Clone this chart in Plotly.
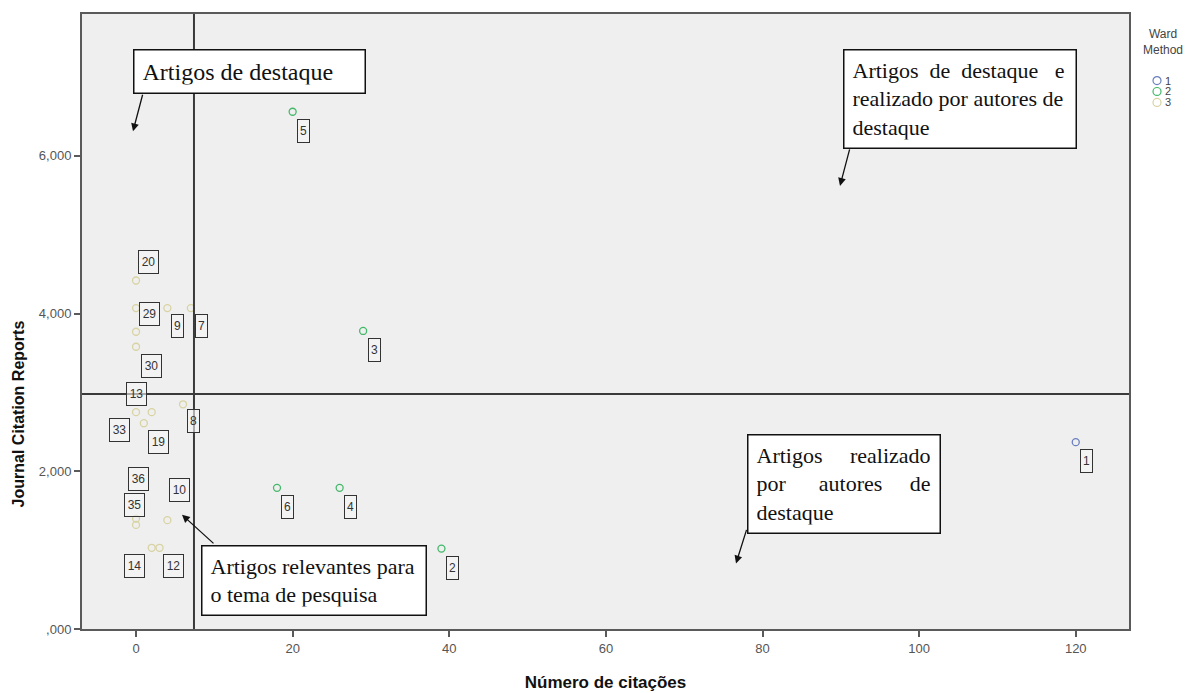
import plotly.graph_objects as go

# ---------------- data ----------------
cluster1_ids = ["1"]
cluster1_x = [120]
cluster1_y = [2370]

cluster2_ids = ["2", "3", "4", "5", "6"]
cluster2_x = [39, 29, 26, 20, 18]
cluster2_y = [1020, 3780, 1790, 6560, 1790]

cluster3_ids = ["20", "29", "9", "7", "", "30", "13", "8", "33", "19", "36", "35", "10", "14", "12"]
cluster3_x = [0, 0, 4, 7, 0, 0, 0, 6, 2, 1, 0, 0, 4, 2, 3]
cluster3_y = [4420, 4070, 4070, 4070, 3770, 3580, 2750, 2850, 2750, 2610, 1400, 1320, 1380, 1030, 1030]

cluster_names = ["1", "2", "3"]
ref_x = 7.4
ref_y = 2980

x_ticks = [0, 20, 40, 60, 80, 100, 120]
y_ticks = [0, 2000, 4000, 6000]
y_ticktext = [",000", "2,000", "4,000", "6,000"]

x_title = "Número de citações"
y_title = "Journal Citation Reports"
legend_title = "Ward<br>Method"

box_texts = [
    "Artigos de destaque",
    "Artigos\u00a0\u00a0de\u00a0\u00a0destaque\u00a0\u00a0\u00a0e<br>realizado por autores de<br>destaque",
    "Artigos\u00a0\u00a0\u00a0\u00a0\u00a0realizado<br>por\u00a0\u00a0\u00a0\u00a0\u00a0\u00a0autores\u00a0\u00a0\u00a0\u00a0\u00a0de<br>destaque",
    "Artigos relevantes para<br>o tema de pesquisa",
]

# ---------------- styles / layout geometry ----------------
COLORS = ["#6a7fbf", "#44b86a", "#d8d3a2"]
OFF = 8  # page body margin
W, H = 1198 - OFF, 693 - OFF
PL, PR, PT, PB = 82, 1129, 12, 631  # plot area in window pixels
SANS = "Liberation Sans, Arial, sans-serif"

DEFAULT_SHIFT = (11, -19)
LABEL_SHIFT = {
    "20": (12, 19), "29": (13, -6), "9": (10, -18), "7": (11, -18),
    "30": (15, -19), "13": (0, 18), "8": (10, -17), "33": (-32, -18),
    "19": (15, -19), "36": (2, 40), "35": (-2, 20), "10": (12, 30),
    "14": (-17, -18), "12": (14, -18),
}

BOXES = [
    (133, 47, 366, 92, 24),
    (843, 47, 1077, 147, 22),
    (747, 435, 941, 535, 22),
    (201, 546, 427, 617, 22),
]
ARROWS = [
    (143, 92, 133, 130),
    (850, 147, 840, 185),
    (747, 530, 736, 565),
    (215, 546, 182, 516),
]
LEG_X, LEG_Y0, LEG_DY = 1157, 79, 11


def px2paper(px, py):
    return (px - PL) / (PR - PL), (PB - py) / (PB - PT)


fig = go.Figure()
clusters = [
    (cluster1_ids, cluster1_x, cluster1_y),
    (cluster2_ids, cluster2_x, cluster2_y),
    (cluster3_ids, cluster3_x, cluster3_y),
]
for name, (ids, xs, ys), col in zip(cluster_names, clusters, COLORS):
    fig.add_trace(go.Scatter(
        x=xs, y=ys, mode="markers", name=name, showlegend=False,
        marker=dict(symbol="circle-open", size=7, color=col, line=dict(width=1.3, color=col)),
        hoverinfo="skip",
    ))

annotations = []
for ids, xs, ys in clusters:
    for lab, xv, yv in zip(ids, xs, ys):
        if not lab:
            continue
        sx, sy = LABEL_SHIFT.get(lab, DEFAULT_SHIFT)
        annotations.append(dict(
            x=xv, y=yv, xref="x", yref="y", text=lab, showarrow=False,
            xshift=sx, yshift=sy,
            font=dict(family=SANS, size=12, color="#333333"),
            bordercolor="#333333", borderwidth=1, borderpad=1,
            bgcolor="rgba(245,245,245,0.6)",
            width=8 * len(lab) + 1, height=20,
        ))

for (l, t, r, b, fs), txt in zip(BOXES, box_texts):
    pad, bw = 8, 1.5
    x0, y0 = px2paper(l, t)
    annotations.append(dict(
        x=x0, y=y0, xref="paper", yref="paper", xanchor="left", yanchor="top",
        text=txt, showarrow=False, align="left", valign="middle",
        font=dict(family="Liberation Serif, Times New Roman, serif", size=fs, color="#111111"),
        bgcolor="white", bordercolor="#111111", borderwidth=bw, borderpad=pad,
        width=(r - l) - 2 * pad - 2 * bw, height=(b - t) - 2 * pad - 2 * bw,
    ))

for tx, ty, hx, hy in ARROWS:
    x0, y0 = px2paper(hx, hy)
    annotations.append(dict(
        x=x0, y=y0, xref="paper", yref="paper", text="", showarrow=True,
        ax=tx - hx, ay=ty - hy, axref="pixel", ayref="pixel",
        arrowhead=2, arrowsize=1.2, arrowwidth=1.3, arrowcolor="#111111",
    ))

shapes = [
    dict(type="line", xref="x", yref="paper", x0=ref_x, x1=ref_x, y0=0, y1=1,
         line=dict(color="#3a3a3a", width=2)),
    dict(type="line", xref="paper", yref="y", x0=0, x1=1, y0=ref_y, y1=ref_y,
         line=dict(color="#3a3a3a", width=2)),
]

# legend (title text + symbol circles + labels)
lx, ly = px2paper(1163, 40)
annotations.append(dict(
    x=lx, y=ly, xref="paper", yref="paper", text=legend_title, showarrow=False,
    xanchor="center", yanchor="middle", align="center",
    font=dict(family=SANS, size=12, color="#444444"),
))
for i, (name, col) in enumerate(zip(cluster_names, COLORS)):
    cy = LEG_Y0 + LEG_DY * i
    ax0, ay0 = px2paper(LEG_X - 4, cy + 4)
    ax1, ay1 = px2paper(LEG_X + 4, cy - 4)
    shapes.append(dict(type="circle", xref="paper", yref="paper",
                       x0=ax0, x1=ax1, y0=ay0, y1=ay1,
                       line=dict(color=col, width=1.2)))
    tx0, ty0 = px2paper(LEG_X + 7, cy)
    annotations.append(dict(
        x=tx0, y=ty0, xref="paper", yref="paper", text=name, showarrow=False,
        xanchor="left", yanchor="middle", borderpad=0,
        font=dict(family=SANS, size=11, color="#444444"),
    ))

# y-axis title
tx_, ty_ = px2paper(18, 415)
annotations.append(dict(
    x=tx_, y=ty_, xref="paper", yref="paper", text=f"<b>{y_title}</b>",
    showarrow=False, textangle=-90, xanchor="center", yanchor="middle",
    font=dict(family=SANS, size=16, color="#111111"),
))

axis_common = dict(
    showgrid=False, zeroline=False, showline=True, mirror=True,
    linecolor="#5a5a5a", linewidth=2, ticks="outside", ticklen=6, tickwidth=1.5,
    tickcolor="#5a5a5a",
    tickfont=dict(family=SANS, size=13, color="#555555"),
)

fig.update_layout(
    width=W, height=H, autosize=False,
    margin=dict(l=PL - OFF, r=1198 - PR, t=PT - OFF, b=693 - PB),
    plot_bgcolor="#efefef", paper_bgcolor="white",
    showlegend=False,
    xaxis=dict(range=[-6.9, 126.8], tickvals=x_ticks,
               title=dict(text=f"<b>{x_title}</b>", standoff=22,
                          font=dict(family=SANS, size=17, color="#111111")),
               **axis_common),
    yaxis=dict(range=[0, 7800], tickvals=y_ticks, ticktext=y_ticktext, **axis_common),
    annotations=annotations,
    shapes=shapes,
)

fig.write_html("out.html")
